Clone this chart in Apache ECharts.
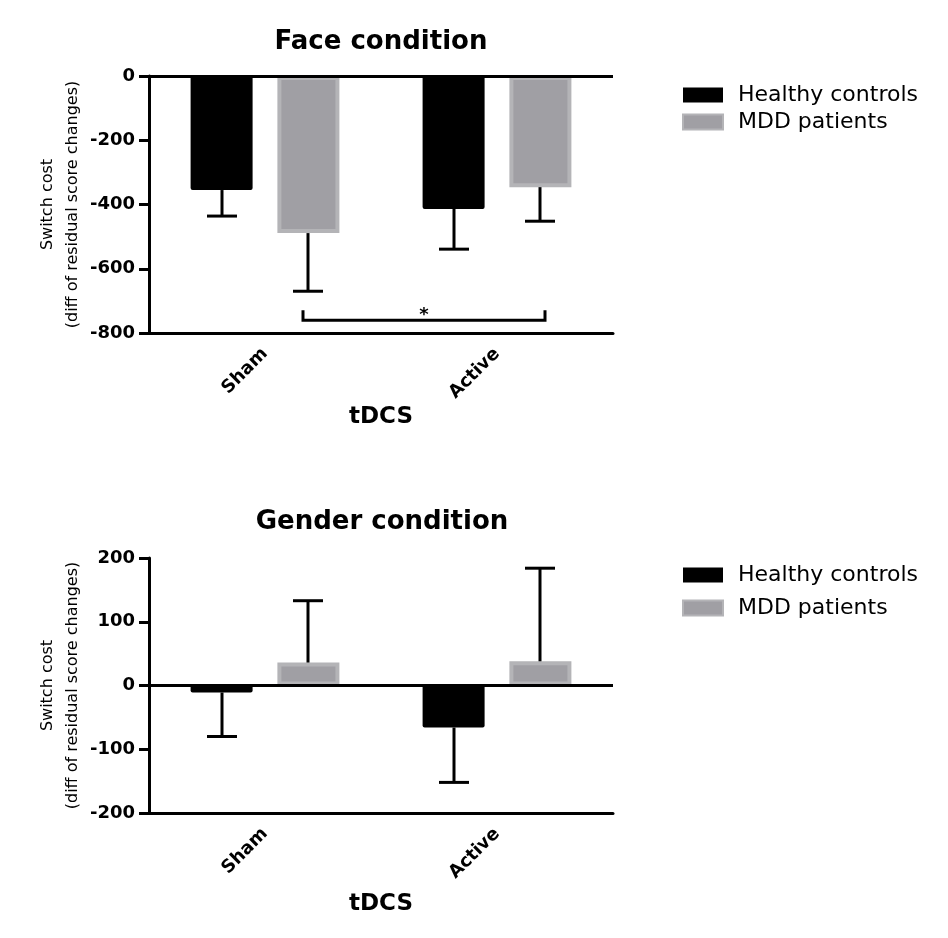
<!DOCTYPE html>
<html>
<head>
<meta charset="utf-8">
<script src="https://cdn.jsdelivr.net/npm/echarts@6/dist/echarts.min.js"></script>
<style>
  html, body { margin: 0; padding: 0; background: #fff; }
  #main { width: 948px; height: 938px; }
</style>
</head>
<body>
<div id="main"></div>
<script>
// categories + values
var categories = ['Sham', 'Active'];
var groups = ['Healthy controls', 'MDD patients'];

// Face condition (mean, SEM)
var faceHealthy = [-355, -414];
var faceHealthySem = [81, 125];
var faceMDD = [-489, -346];
var faceMDDSem = [181, 106];
var faceSigLevel = -760; // bracket Sham MDD vs Active MDD

// Gender condition (mean, SEM)
var genderHealthy = [-11, -66];
var genderHealthySem = [69, 86];
var genderMDD = [36, 38];
var genderMDDSem = [97, 146];

var faceTicks = { min: -800, max: 0, interval: 200 };
var genderTicks = { min: -200, max: 200, interval: 100 };

var FONT = 'DejaVu Sans';
var BAR_W = 62;
var OFFSET = 43; // half distance between bar centres in a group

var myChart = echarts.init(document.getElementById('main'));

function errData(h, hs, m, ms) {
	var out = [];
	for (var i = 0; i < categories.length; i++) {
		out.push([i, h[i], hs[i], 0]);
		out.push([i, m[i], ms[i], 1]);
	}
	return out;
}

// one-sided error bar going away from zero
function renderErr(params, api) {
	var cat = api.value(0), mean = api.value(1), sem = api.value(2), grp = api.value(3);
	var base = api.coord([cat, mean]);
	var tip = api.coord([cat, mean < 0 ? mean - sem : mean + sem]);
	var x = base[0] + (grp === 0 ? -OFFSET : OFFSET);
	var st = { stroke: '#000', lineWidth: 3 };
	return {
		type: 'group',
		children: [
			{ type: 'line', shape: { x1: x, y1: base[1], x2: x, y2: tip[1] }, style: st },
			{ type: 'line', shape: { x1: x - 15, y1: tip[1], x2: x + 15, y2: tip[1] }, style: st }
		]
	};
}

function renderSig(params, api) {
	var p0 = api.coord([api.value(0), api.value(2)]);
	var p1 = api.coord([api.value(1), api.value(2)]);
	var x0 = p0[0] + OFFSET - 5, x1 = p1[0] + OFFSET + 5, y = p0[1];
	return {
		type: 'group',
		children: [
			{ type: 'polyline', shape: { points: [[x0, y - 10], [x0, y], [x1, y], [x1, y - 10]] },
				style: { stroke: '#000', lineWidth: 3, fill: null } },
			{ type: 'text', x: (x0 + x1) / 2, y: y - 14,
				style: { text: '*', fill: '#000', font: 'bold 18px "DejaVu Sans"', align: 'center', verticalAlign: 'top' } }
		]
	};
}

function yAxisCfg(idx, ticks) {
	return {
		type: 'value', gridIndex: idx,
		min: ticks.min, max: ticks.max, interval: ticks.interval,
		name: 'Switch cost\n(diff of residual score changes)',
		nameLocation: 'middle', nameGap: 64,
		nameTextStyle: { fontFamily: FONT, fontSize: 16, color: '#000', lineHeight: 25 },
		axisLine: { show: true, lineStyle: { color: '#000', width: 3 } },
		axisTick: { show: true, length: 10, lineStyle: { color: '#000', width: 3 } },
		axisLabel: { fontFamily: FONT, fontSize: 18, fontWeight: 'bold', color: '#000', margin: 14 },
		splitLine: { show: false }
	};
}

function xAxisCfg(idx, gap) {
	return {
		type: 'category', gridIndex: idx, data: categories,
		position: 'bottom',
		name: 'tDCS', nameLocation: 'middle', nameGap: gap,
		nameTextStyle: { fontFamily: FONT, fontSize: 23, fontWeight: 'bold', color: '#000' },
		axisLine: { onZero: false, lineStyle: { color: '#000', width: 3 } },
		axisTick: { alignWithLabel: true, length: 10, lineStyle: { color: '#000', width: 3 } },
		axisLabel: { rotate: 45, fontFamily: FONT, fontSize: 18, fontWeight: 'bold', color: '#000', margin: 18 }
	};
}

var zeroLine = {
	silent: true, symbol: 'none', label: { show: false },
	lineStyle: { color: '#000', width: 3, type: 'solid' },
	data: [{ yAxis: 0 }]
};

var blackStyle = { color: '#000', borderRadius: 2 };
var grayStyle = { color: '#a09fa4', borderColor: '#b4b4b7', borderWidth: 4 };

function legendCfg(top, gap) {
	return {
		data: groups, orient: 'vertical', left: 682, top: top, icon: 'rect', padding: 0,
		itemWidth: 40, itemHeight: 15, itemGap: gap,
		textStyle: { fontFamily: FONT, fontSize: 22, lineHeight: 22, color: '#000', padding: [0, 0, 0, 10] }
	};
}

var option = {
	animation: false,
	backgroundColor: '#fff',
	title: [
		{ text: 'Face condition', left: 376, top: 24, textAlign: 'center',
			textStyle: { fontFamily: FONT, fontSize: 26, fontWeight: 'bold', color: '#000' } },
		{ text: 'Gender condition', left: 377, top: 504, textAlign: 'center',
			textStyle: { fontFamily: FONT, fontSize: 26, fontWeight: 'bold', color: '#000' } }
	],
	legend: [legendCfg(84, 5), legendCfg(564, 11)],
	grid: [
		{ left: 149, top: 76, width: 464, height: 257 },
		{ left: 149, top: 558, width: 464, height: 255 }
	],
	xAxis: [xAxisCfg(0, 73), xAxisCfg(1, 80)],
	yAxis: [yAxisCfg(0, faceTicks), yAxisCfg(1, genderTicks)],
	series: [
		{ name: groups[0], type: 'bar', xAxisIndex: 0, yAxisIndex: 0, data: faceHealthy,
			barWidth: BAR_W, barGap: '40%', itemStyle: blackStyle, markLine: zeroLine },
		{ name: groups[1], type: 'bar', xAxisIndex: 0, yAxisIndex: 0, data: faceMDD,
			barWidth: BAR_W, barGap: '40%', itemStyle: grayStyle },
		{ type: 'custom', xAxisIndex: 0, yAxisIndex: 0, renderItem: renderErr, z: 3,
			encode: { x: 0, y: 1 }, data: errData(faceHealthy, faceHealthySem, faceMDD, faceMDDSem) },
		{ type: 'custom', xAxisIndex: 0, yAxisIndex: 0, renderItem: renderSig, z: 3,
			encode: { x: 0, y: 2 }, data: [[0, 1, faceSigLevel]] },

		{ name: groups[0], type: 'bar', xAxisIndex: 1, yAxisIndex: 1, data: genderHealthy,
			barWidth: BAR_W, barGap: '40%', itemStyle: blackStyle, markLine: zeroLine },
		{ name: groups[1], type: 'bar', xAxisIndex: 1, yAxisIndex: 1, data: genderMDD,
			barWidth: BAR_W, barGap: '40%', itemStyle: grayStyle },
		{ type: 'custom', xAxisIndex: 1, yAxisIndex: 1, renderItem: renderErr, z: 3,
			encode: { x: 0, y: 1 }, data: errData(genderHealthy, genderHealthySem, genderMDD, genderMDDSem) }
	]
};
myChart.setOption(option);
</script>
</body>
</html>
